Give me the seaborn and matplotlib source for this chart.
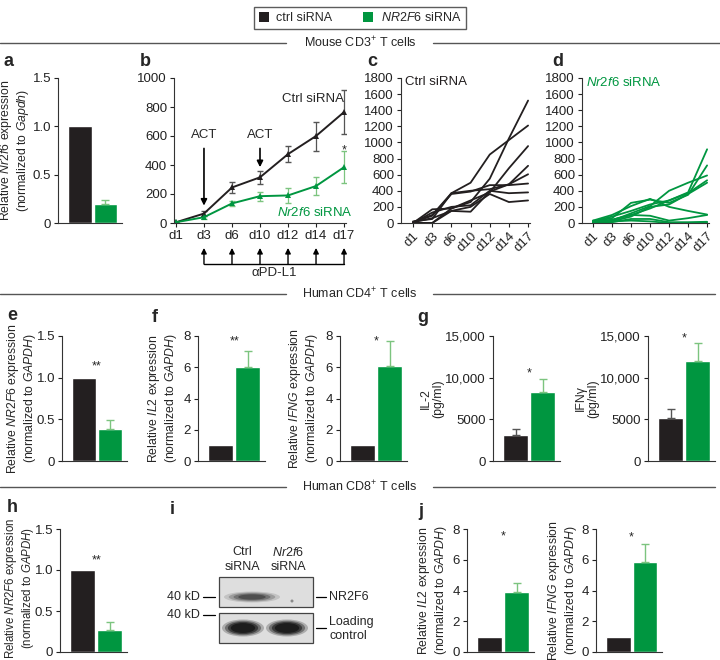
import numpy as np
import pandas as pd
import matplotlib
matplotlib.use("Agg")
import matplotlib.pyplot as plt
from matplotlib.patches import Rectangle, Ellipse, Patch
import seaborn as sns

# ---------------- data ----------------
groups = ["ctrl siRNA", "NR2F6 siRNA"]
days = ["d1", "d3", "d6", "d10", "d12", "d14", "d17"]

# a: mouse Nr2f6 expression
a_vals = [1.0, 0.20]
a_errs = [0.0, 0.04]

# b: tumour growth mean +- error
b_ctrl = [5, 65, 245, 315, 475, 600, 765]
b_ctrl_err = [5, 15, 35, 45, 55, 100, 150]
b_kd = [5, 40, 135, 185, 190, 255, 385]
b_kd_err = [5, 10, 20, 30, 50, 65, 110]

# c: individual ctrl siRNA curves
c_lines = [
    [10, 100, 370, 500, 850, 1030, 1210],
    [0, 0, 180, 260, 550, 1050, 1520],
    [0, 170, 180, 280, 380, 680, 955],
    [20, 50, 370, 400, 420, 480, 710],
    [0, 0, 150, 140, 390, 480, 605],
    [10, 90, 360, 390, 470, 470, 490],
    [0, 130, 200, 220, 400, 370, 380],
    [10, 60, 150, 200, 360, 260, 280],
]
# d: individual Nr2f6 siRNA curves
d_lines = [
    [10, 40, 100, 180, 280, 380, 915],
    [20, 60, 250, 290, 250, 350, 715],
    [0, 30, 120, 210, 400, 500, 590],
    [20, 80, 150, 230, 280, 370, 530],
    [10, 20, 80, 200, 230, 360, 500],
    [30, 100, 210, 300, 200, 150, 105],
    [10, 40, 100, 90, 30, 60, 100],
    [0, 10, 50, 50, 10, 10, 15],
    [30, 20, 30, 20, 0, 0, 5],
]

# e-g: human CD4+
e_vals, e_errs = [1.0, 0.39], [0.0, 0.10]
f_il2_vals, f_il2_errs = [1.0, 6.0], [0.0, 1.05]
f_ifng_vals, f_ifng_errs = [1.0, 6.05], [0.0, 1.6]
g_il2_vals, g_il2_errs = [3100, 8300], [700, 1500]
g_ifng_vals, g_ifng_errs = [5200, 12000], [1000, 2200]
# h, j: human CD8+
h_vals, h_errs = [1.0, 0.27], [0.0, 0.10]
j_il2_vals, j_il2_errs = [1.0, 3.9], [0.0, 0.62]
j_ifng_vals, j_ifng_errs = [1.0, 5.85], [0.0, 1.15]

# ---------------- style ----------------
BLACK = "#231f20"
GREEN = "#009640"
LGREEN = "#7cc47f"
GRAY = "#555555"
sns.set_theme(style="ticks")
plt.rcParams["font.family"] = ["Liberation Sans", "DejaVu Sans"]
plt.rcParams["mathtext.fontset"] = "custom"
plt.rcParams["mathtext.rm"] = "Liberation Sans"
plt.rcParams["mathtext.it"] = "Liberation Sans:italic"
plt.rcParams["mathtext.bf"] = "Liberation Sans:bold"
plt.rcParams["axes.linewidth"] = 0.8
plt.rcParams["axes.edgecolor"] = "#333333"

TICK = 9.5
LAB = 8.8

W, H = 720, 660
fig = plt.figure(figsize=(W / 100, H / 100), dpi=100)


def add_px(l, t, r, b):
    return fig.add_axes([l / W, 1 - b / H, (r - l) / W, (b - t) / H])


def style_ax(ax):
    sns.despine(ax=ax)
    ax.tick_params(axis="both", labelsize=TICK, length=3, width=0.8,
                   colors="#222222", pad=2)
    ax.set_facecolor("none")


def bar_panel(px, vals, errs, ylim, yticks, yticklabels, ylabel, sig=None,
              sig_y=None, lab_right=None, lab_y=0.5, lab_fs=LAB):
    ax = add_px(*px)
    df = pd.DataFrame({"grp": groups, "val": vals})
    sns.barplot(data=df, x="grp", y="val", hue="grp", palette=[BLACK, GREEN],
                width=0.92, errorbar=None, saturation=1, legend=False, ax=ax)
    ecol = [GRAY, LGREEN]
    for i, (v, e) in enumerate(zip(vals, errs)):
        if e > 0:
            ax.errorbar(i, v, yerr=[[0], [e]], color=ecol[i], capsize=2.6,
                        lw=1.0, capthick=1.0, zorder=1)
    ax.set_xlim(-0.85, 1.65)
    ax.set_ylim(*ylim)
    ax.set_yticks(yticks)
    ax.set_yticklabels(yticklabels)
    ax.set_xticks([])
    ax.set_xlabel("")
    ax.set_ylabel(ylabel, fontsize=lab_fs, linespacing=1.05)
    l, t, r, b = px
    ax.yaxis.set_label_coords((lab_right - l) / (r - l), lab_y)
    style_ax(ax)
    if sig:
        ax.annotate(sig, xy=(0.5, sig_y), xytext=(0, -3),
                    textcoords="offset points", ha="center", va="center",
                    fontsize=9, annotation_clip=False)
    return ax


# ---- a ----
bar_panel((58, 78, 122, 223), a_vals, a_errs, (0, 1.5), [0, 0.5, 1.0, 1.5],
          ["0", "0.5", "1.0", "1.5"],
          "Relative $\\it{Nr2f6}$ expression\n(normalized to $\\it{Gapdh}$)",
          lab_right=31)

# ---- b ----
axb = add_px(174, 78, 346, 223)
pos = list(range(len(days)))
dfb = pd.DataFrame({"pos": pos * 2, "val": b_ctrl + b_kd,
                    "grp": ["ctrl"] * 7 + ["kd"] * 7})
sns.lineplot(data=dfb, x="pos", y="val", hue="grp",
             palette={"ctrl": BLACK, "kd": GREEN}, marker="^", markersize=4,
             markeredgewidth=0, lw=1.4, legend=False, ax=axb)
axb.errorbar(pos, b_ctrl, yerr=b_ctrl_err, fmt="none", ecolor=GRAY,
             capsize=2.5, lw=0.9, zorder=1)
axb.errorbar(pos, b_kd, yerr=b_kd_err, fmt="none", ecolor=LGREEN,
             capsize=2.5, lw=0.9, zorder=1)
axb.set_xlim(-0.07, 6.07)
axb.set_ylim(0, 1000)
axb.set_yticks(range(0, 1001, 200))
axb.set_xticks(pos)
axb.set_xticklabels(days)
axb.set_xlabel("")
axb.set_ylabel("")
style_ax(axb)
for xi in (1, 3):
    axb.annotate("ACT", xy=(xi, 120 if xi == 1 else 385), xytext=(xi, 607),
                 ha="center", va="center", fontsize=TICK,
                 arrowprops=dict(arrowstyle="-|>", color="black", lw=1.2,
                                 mutation_scale=9, shrinkA=3, shrinkB=0))
axb.text(4.9, 855, "Ctrl siRNA", ha="center", va="center", fontsize=TICK)
axb.text(4.95, 70, "$\\it{Nr2f6}$ siRNA", ha="center", va="center",
         fontsize=TICK, color=GREEN)
axb.annotate("*", xy=(6, 530), xytext=(0, -3), textcoords="offset points",
             ha="center", va="center", fontsize=9)
axb.plot([1, 6], [-283, -283], color="black", lw=1.0, clip_on=False)
for xi in range(1, 7):
    axb.annotate("", xy=(xi, -172), xytext=(xi, -283), annotation_clip=False,
                 arrowprops=dict(arrowstyle="-|>", color="black", lw=1.0,
                                 mutation_scale=8, shrinkA=0, shrinkB=0))
axb.text(3.5, -345, "αPD-L1", ha="center", va="center", fontsize=TICK,
         clip_on=False)


# ---- c, d ----
def spaghetti(px, lines, color, xlim, label):
    ax = add_px(*px)
    rows = []
    for k, ln in enumerate(lines):
        for i, v in enumerate(ln):
            rows.append({"line": k, "pos": i, "val": v})
    df = pd.DataFrame(rows)
    sns.lineplot(data=df, x="pos", y="val", units="line", estimator=None,
                 color=color, lw=1.3, ax=ax)
    ax.set_xlim(*xlim)
    ax.set_ylim(0, 1800)
    ax.set_yticks(range(0, 1801, 200))
    ax.set_xticks(range(len(days)))
    ax.set_xticklabels(days, rotation=45, ha="right", rotation_mode="anchor")
    ax.set_xlabel("")
    ax.set_ylabel("")
    style_ax(ax)
    ax.text(0.03, 0.97, label, transform=ax.transAxes, ha="left", va="center",
            fontsize=TICK, color=color)
    return ax


spaghetti((401, 78, 530, 223), c_lines, BLACK, (-0.63, 6.1), "Ctrl siRNA")
spaghetti((582, 78, 709, 223), d_lines, GREEN, (-0.58, 6.1),
          "$\\it{Nr2f6}$ siRNA")

# ---- e, f, g ----
bar_panel((62, 336, 127, 461), e_vals, e_errs, (0, 1.5), [0, 0.5, 1.0, 1.5],
          ["0", "0.5", "1.0", "1.5"],
          "Relative $\\it{NR2F6}$ expression\n(normalized to $\\it{GAPDH}$)",
          "**", 1.19, lab_right=38)
bar_panel((198, 336, 265, 461), f_il2_vals, f_il2_errs, (0, 8),
          [0, 2, 4, 6, 8], ["0", "2", "4", "6", "8"],
          "Relative $\\it{IL2}$ expression\n(normalized to $\\it{GAPDH}$)",
          "**", 7.9, lab_right=179)
bar_panel((340, 336, 407, 461), f_ifng_vals, f_ifng_errs, (0, 8),
          [0, 2, 4, 6, 8], ["0", "2", "4", "6", "8"],
          "Relative $\\it{IFNG}$ expression\n(normalized to $\\it{GAPDH}$)",
          "*", 7.9, lab_right=320)
bar_panel((493, 336, 560, 461), g_il2_vals, g_il2_errs, (0, 15000),
          [0, 5000, 10000, 15000], ["0", "5000", "10,000", "15,000"],
          "IL-2\n(pg/ml)", "*", 11040, lab_right=444)
bar_panel((648, 336, 715, 461), g_ifng_vals, g_ifng_errs, (0, 15000),
          [0, 5000, 10000, 15000], ["0", "5000", "10,000", "15,000"],
          "IFNγ\n(pg/ml)", "*", 15240, lab_right=599)

# ---- h, j ----
bar_panel((60, 529, 127, 652), h_vals, h_errs, (0, 1.5), [0, 0.5, 1.0, 1.5],
          ["0", "0.5", "1.0", "1.5"],
          "Relative $\\it{NR2F6}$ expression\n(normalized to $\\it{GAPDH}$)",
          "**", 1.17, lab_right=36, lab_y=0.52, lab_fs=8.3)
bar_panel((467, 529, 534, 652), j_il2_vals, j_il2_errs, (0, 8),
          [0, 2, 4, 6, 8], ["0", "2", "4", "6", "8"],
          "Relative $\\it{IL2}$ expression\n(normalized to $\\it{GAPDH}$)",
          "*", 7.8, lab_right=449)
bar_panel((596, 529, 662, 652), j_ifng_vals, j_ifng_errs, (0, 8),
          [0, 2, 4, 6, 8], ["0", "2", "4", "6", "8"],
          "Relative $\\it{IFNG}$ expression\n(normalized to $\\it{GAPDH}$)",
          "*", 7.7, lab_right=579)

# ---------------- overlay: headers, letters, blot ----------------
ov = fig.add_axes([0, 0, 1, 1])
ov.set_xlim(0, W)
ov.set_ylim(H, 0)
ov.axis("off")
ov.patch.set_alpha(0)

for y, txt in [(43, "Mouse CD3$^{+}$ T cells"), (294, "Human CD4$^{+}$ T cells"),
               (487, "Human CD8$^{+}$ T cells")]:
    ov.plot([0, 286], [y, y], color="#555555", lw=1.0)
    ov.plot([433, 715 if y != 43 else 720], [y, y], color="#555555", lw=1.0)
    ov.text(360, y, txt, ha="center", va="center", fontsize=TICK - 0.5)

for (x, y, L) in [(3, 62, "a"), (140, 62, "b"), (367, 62, "c"), (552, 62, "d"),
                  (7, 316, "e"), (152, 317, "f"), (417, 317, "g"),
                  (7, 507, "h"), (170, 510, "i"), (418, 512, "j")]:
    ov.text(x, y, L, ha="left", va="center", fontsize=13, fontweight="bold")

# western blot (panel i)
for top in (577, 613):
    ov.add_patch(Rectangle((219, top), 94, 30, facecolor="#dedede",
                           edgecolor="#444444", lw=0.9))
# NR2F6 band (ctrl lane only)
for k, a in enumerate([0.15, 0.25, 0.35, 0.5]):
    s = 1 - k * 0.17
    ov.add_patch(Ellipse((252, 597), 56 * s, 11 * s, facecolor="#2a2a2a",
                         edgecolor="none", alpha=a))
ov.add_patch(Ellipse((292, 601), 3, 3, facecolor="#555555", edgecolor="none",
                     alpha=0.6))
# loading control bands
for cx in (243, 287):
    for k, a in enumerate([0.25, 0.4, 0.6, 0.85]):
        s = 1 - k * 0.14
        ov.add_patch(Ellipse((cx, 628), 42 * s, 17 * s, facecolor="#181818",
                             edgecolor="none", alpha=a))
ov.text(242, 552, "Ctrl", ha="center", va="center", fontsize=TICK - 0.5)
ov.text(242, 567, "siRNA", ha="center", va="center", fontsize=TICK - 0.5)
ov.text(288, 552, "$\\it{Nr2f6}$", ha="center", va="center", fontsize=TICK - 0.5)
ov.text(288, 567, "siRNA", ha="center", va="center", fontsize=TICK - 0.5)
for y in (597, 615):
    ov.text(200, y, "40 kD", ha="right", va="center", fontsize=TICK - 0.5)
    ov.plot([203, 215], [y, y], color="black", lw=0.9)
ov.plot([316, 326], [597, 597], color="black", lw=0.9)
ov.text(329, 597, "NR2F6", ha="left", va="center", fontsize=TICK - 0.5)
ov.plot([316, 326], [628, 628], color="black", lw=0.9)
ov.text(329, 622, "Loading", ha="left", va="center", fontsize=TICK - 0.5)
ov.text(329, 636, "control", ha="left", va="center", fontsize=TICK - 0.5)

# legend
handles = [Patch(facecolor=BLACK, edgecolor="none"),
           Patch(facecolor=GREEN, edgecolor="none")]
fig.legend(handles, ["ctrl siRNA", "$\\it{NR2F6}$ siRNA"], ncol=2,
           loc="upper center", bbox_to_anchor=(0.5, 0.999), frameon=True,
           fancybox=False, edgecolor="#333333", fontsize=TICK - 0.5,
           handlelength=0.8, handleheight=0.8, columnspacing=2.5,
           borderpad=0.35, handletextpad=0.6)

fig.savefig("out.png", dpi=100)
